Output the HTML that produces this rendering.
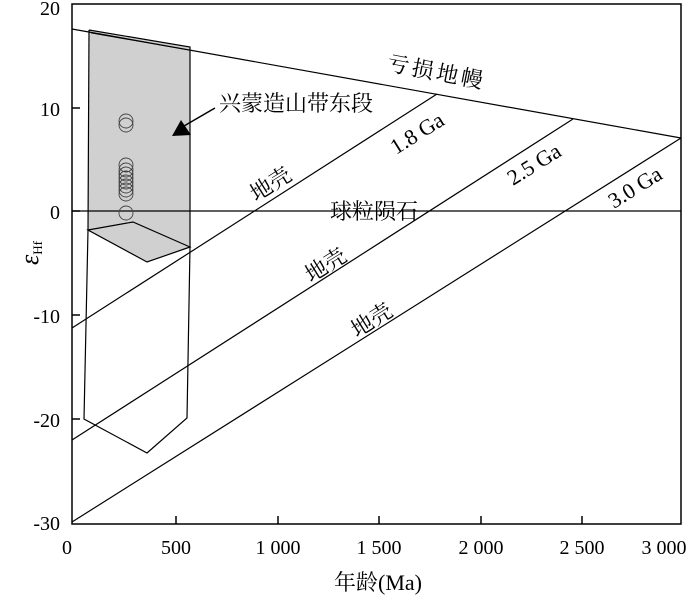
<!DOCTYPE html>
<html><head><meta charset="utf-8"><style>body{margin:0;background:#fff}svg{display:block}</style></head>
<body>
<svg width="700" height="600" xmlns="http://www.w3.org/2000/svg" font-family="'Liberation Serif','Noto Serif CJK SC',serif">
<rect width="700" height="600" fill="#fff"/>
<polygon points="89,30 190,47 190,247 147,262 88,230" fill="#d0d0d0"/>
<g fill="none" stroke="#000" stroke-width="1.2">
<polyline points="89,30 190,47 190,247"/>
<polyline points="89,30 88,230"/>
<polyline points="91,33 189,50" stroke-width="0.8"/>
<polygon points="88,230 133,222 190,247 147,262"/>
<polyline points="88,230 84,419 147,453 187,418 190,247"/>
<line x1="72" y1="29" x2="681" y2="138"/>
<line x1="72" y1="211" x2="681" y2="211"/>
<line x1="72" y1="328" x2="437" y2="94"/>
<line x1="72" y1="440" x2="573" y2="119"/>
<line x1="72" y1="522" x2="681" y2="138"/>
<line x1="184" y1="126" x2="215" y2="108" stroke-width="1.5"/>
</g>
<polygon points="172,136 181,120 191,135" fill="#000"/>
<g fill="none" stroke="#444" stroke-width="0.9">
<circle cx="126" cy="121" r="7"/><circle cx="126" cy="125" r="7"/>
<circle cx="126" cy="165" r="7"/><circle cx="126" cy="170" r="7"/><circle cx="126" cy="174" r="7"/>
<circle cx="126" cy="178" r="7"/><circle cx="126" cy="182" r="7"/><circle cx="126" cy="186" r="7"/>
<circle cx="126" cy="190" r="7"/><circle cx="126" cy="194" r="7"/><circle cx="126" cy="213" r="7"/>
</g>
<rect x="72" y="4" width="609" height="520" fill="none" stroke="#000" stroke-width="1.5"/>
<g stroke="#000" stroke-width="1.5">
<line x1="72" y1="108" x2="80" y2="108"/><line x1="72" y1="211" x2="80" y2="211"/>
<line x1="72" y1="315" x2="80" y2="315"/><line x1="72" y1="419" x2="80" y2="419"/>
<line x1="176" y1="524" x2="176" y2="516"/><line x1="278" y1="524" x2="278" y2="516"/>
<line x1="379" y1="524" x2="379" y2="516"/><line x1="481" y1="524" x2="481" y2="516"/>
<line x1="582" y1="524" x2="582" y2="516"/>
</g>
<g font-size="20" text-anchor="end">
<text x="60" y="15">20</text><text x="60" y="116">10</text><text x="60" y="219">0</text>
<text x="60" y="323">-10</text><text x="60" y="427">-20</text><text x="60" y="530">-30</text>
</g>
<g font-size="20" text-anchor="middle">
<text x="67" y="554">0</text><text x="176" y="554">500</text><text x="278" y="554">1 000</text>
<text x="379" y="554">1 500</text><text x="481" y="554">2 000</text><text x="582" y="554">2 500</text>
<text x="664" y="554">3 000</text>
</g>
<text x="378" y="590" font-size="22" text-anchor="middle">年龄(Ma)</text>
<text x="28" y="275" font-size="26" font-style="italic" transform="rotate(-90 28 265)">ε<tspan font-size="13" font-style="normal" dy="4">Hf</tspan></text>
<g font-size="22">
<text x="219" y="111">兴蒙造山带东段</text>
<text x="330" y="219">球粒陨石</text>
<text x="386" y="70" transform="rotate(11 386 70)" letter-spacing="3">亏损地幔</text>
<text x="256" y="202" transform="rotate(-32 256 202)">地壳</text>
<text x="311" y="283" transform="rotate(-32 311 283)">地壳</text>
<text x="357" y="338" transform="rotate(-32 357 338)">地壳</text>
<text x="396" y="155" transform="rotate(-32 396 155)">1.8 Ga</text>
<text x="513" y="186" transform="rotate(-32 513 186)">2.5 Ga</text>
<text x="614" y="209" transform="rotate(-32 614 209)">3.0 Ga</text>
</g>
</svg>
</body></html>
